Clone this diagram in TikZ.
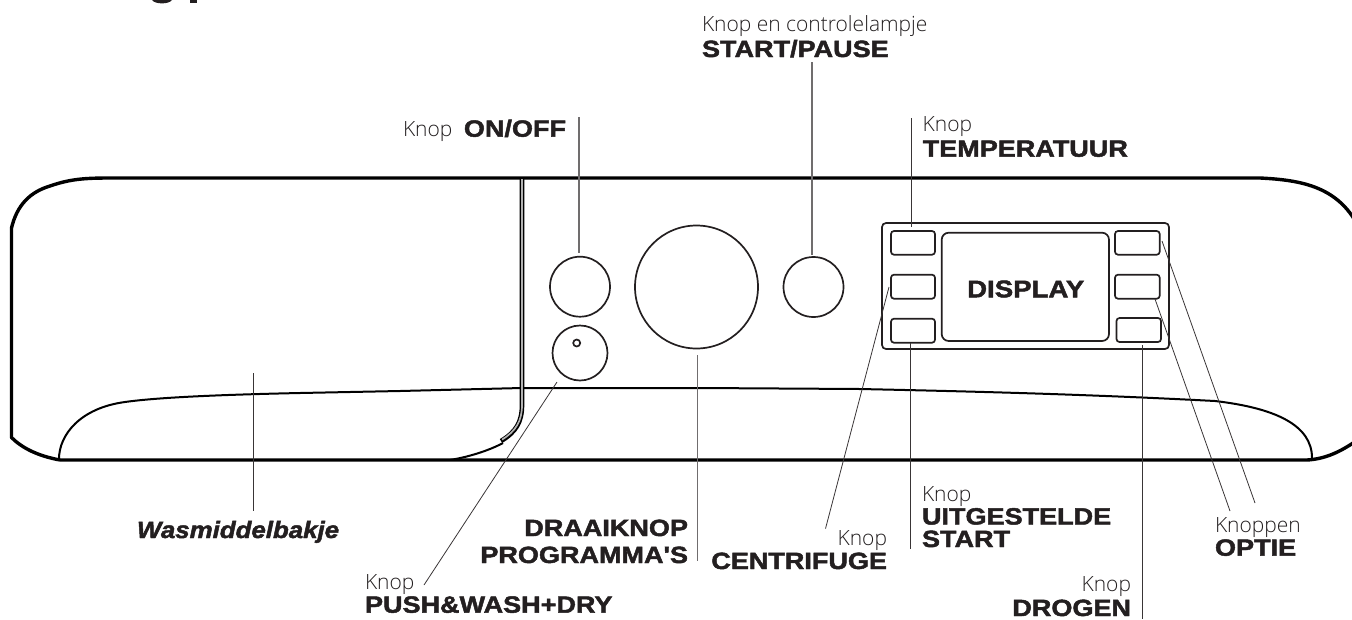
\documentclass[tikz,border=0pt]{standalone}
\usepackage{fontspec}
\setmainfont{Liberation Sans}
\newfontfamily\lightf{Open Sans Light}
\newfontfamily\heavyf[FakeStretch=1.15,FakeBold=2]{Liberation Sans Bold}
\newfontfamily\heavyi[FakeStretch=1.1,FakeBold=2]{Liberation Sans Bold Italic}
\definecolor{ink}{HTML}{231F20}
\tikzset{
 body/.style={line width=3.4pt,black},
 edge/.style={line width=2pt,black},
 part/.style={line width=1.7pt,draw=ink},
 lead/.style={line width=0.8pt,draw=ink!90},
 leadg/.style={line width=1.1pt,draw=ink!65},
 lt/.style={inner sep=0pt,outer sep=0pt,text=ink,font=\lightf\fontsize{21}{21}\selectfont},
 hv/.style={inner sep=0pt,outer sep=0pt,text=ink,font=\heavyf\fontsize{23.5}{23.5}\selectfont},
 hi/.style={inner sep=0pt,outer sep=0pt,text=ink,font=\heavyi\fontsize{23.5}{23.5}\selectfont},
}
\begin{document}
\begin{tikzpicture}[x=1pt,y=-1pt]
\useasboundingbox (0,0) rectangle (1352,619);
% cropped title remains
\fill[ink] (152,0) .. controls (155,4.5) and (169,4.5) .. (172,0) -- cycle;
\fill[ink] (190,0) rectangle (197,3.2);
% body
\begin{scope}
\clip (0,0) rectangle (1352,619);
\draw[body,line join=round] (60,460) .. controls (38,456) and (22,448) .. (11.5,437.5) -- (11.5,228)
  .. controls (17,205) and (30,192) .. (50,186) .. controls (70,179) and (85,178) .. (110,178) -- (1260,178)
  .. controls (1300,180) and (1335,186) .. (1356,222);
\draw[body] (60,460) -- (450,460) (450,460) -- (1307,460) .. controls (1325,459) and (1340,452) .. (1356,441);
\draw[edge] (59,459) .. controls (59,435) and (80,408) .. (125,402) .. controls (160,397) and (230,394.5) .. (300,393)
  -- (400,391) -- (522,388) -- (700,388) -- (860,389) .. controls (1000,392) and (1100,395) .. (1215,401)
  .. controls (1275,408) and (1312,425) .. (1312,458);
\end{scope}
% dispenser divider
\draw[line width=4.6pt,black] (522,178) -- (522,405) .. controls (522,422) and (516,432) .. (501,441);
\draw[line width=1.7pt,gray!60] (522,179) -- (522,405) .. controls (522,421) and (516,431) .. (502,439.6);
\draw[edge] (503,443) .. controls (488,451) and (468,457) .. (450,460);
% knobs
\node[circle,part,minimum size=60pt,inner sep=0pt] (onoff) at (580,286.7) {};
\node[circle,part,minimum size=55pt,inner sep=0pt] (push) at (580,353) {};
\node[circle,part,minimum size=7pt,inner sep=0pt] (lamp) at (576.7,343) {};
\node[circle,part,minimum size=123pt,inner sep=0pt] (dial) at (696.5,287) {};
\node[circle,part,minimum size=60pt,inner sep=0pt] (start) at (813.5,287) {};
% display
\draw[part,rounded corners=4pt] (882,223) rectangle (1169,349);
\draw[part,rounded corners=7pt] (941.7,232.7) rectangle (1109,341);
\node[inner sep=0pt,text=ink,font=\heavyf\fontsize{24}{24}\selectfont] (disp) at (1025.7,289) {DISPLAY};
\foreach \n/\xa/\ya/\xb/\yb in {bl1/891/231/935/254.7,bl2/891/274.7/935/298.7,bl3/891/318.7/935/342.7,
  br1/1115/231/1159.7/254.7,br2/1115/274.7/1159.7/298.7,br3/1116.5/318/1161/342}{
  \draw[part,rounded corners=3pt] (\xa,\ya) rectangle (\xb,\yb);
}
% labels
\node[lt,anchor=base west] (l1a) at (702,31) {Knop en controlelampje};
\node[hv,anchor=base west] (l1b) at (702,57) {START/PAUSE};
\node[lt,anchor=base west] (l2a) at (403,136.7) {Knop};
\node[hv,anchor=base east] (l2b) at (566,136.7) {ON/OFF};
\node[lt,anchor=base west] (l3a) at (922.7,131.7) {Knop};
\node[hv,anchor=base west] (l3b) at (922.7,156.7) {TEMPERATUUR};
\node[hi,anchor=base west] (l4) at (137,538) {Wasmiddelbakje};
\node[hv,anchor=base east] (l5a) at (688,536) {DRAAIKNOP};
\node[hv,anchor=base east] (l5b) at (688,563) {PROGRAMMA'S};
\node[lt,anchor=base east] (l6a) at (887,545) {Knop};
\node[hv,anchor=base east] (l6b) at (887,569) {CENTRIFUGE};
\node[lt,anchor=base west] (l7a) at (365,589) {Knop};
\node[hv,anchor=base west] (l7b) at (365,612.7) {PUSH\&WASH+DRY};
\node[lt,anchor=base west] (l8a) at (922,501) {Knop};
\node[hv,anchor=base west] (l8b) at (922,524.5) {UITGESTELDE};
\node[hv,anchor=base west] (l8c) at (922,547) {START};
\node[lt,anchor=base east] (l9a) at (1131,591) {Knop};
\node[hv,anchor=base east] (l9b) at (1131,616) {DROGEN};
\node[lt,anchor=base west] (l10a) at (1215,532) {Knoppen};
\node[hv,anchor=base west] (l10b) at (1215,555.7) {OPTIE};
% leader ends
\coordinate (c1a) at (812,62); \coordinate (c1b) at (812,255);
\coordinate (c2a) at (579,117); \coordinate (c2b) at (579,253);
\coordinate (c3a) at (911.7,118); \coordinate (c3b) at (911.7,227);
\coordinate (c4a) at (253.5,373); \coordinate (c4b) at (253.5,510.7);
\coordinate (c5a) at (697.7,355); \coordinate (c5b) at (697.7,561);
\coordinate (c6a) at (889,287); \coordinate (c6b) at (825.5,528.6);
\coordinate (c7a) at (557,382); \coordinate (c7b) at (424,585);
\coordinate (c8a) at (910.7,343); \coordinate (c8b) at (910.7,549);
\coordinate (c9a) at (1142.5,345); \coordinate (c9b) at (1142.5,619);
\coordinate (c10a) at (1162,241); \coordinate (c10b) at (1255,503);
\coordinate (c11a) at (1155,299); \coordinate (c11b) at (1230,511);
\draw[leadg] (c1a) -- (c1b);
\draw[leadg] (c2a) -- (c2b);
\draw[lead] (c3a) -- (c3b);
\draw[lead] (c4a) -- (c4b);
\draw[leadg] (c5a) -- (c5b);
\draw[lead] (c6a) -- (c6b);
\draw[lead] (c7a) -- (c7b);
\draw[lead] (c8a) -- (c8b);
\draw[lead] (c9a) -- (c9b);
\draw[lead] (c10a) -- (c10b);
\draw[lead] (c11a) -- (c11b);
\end{tikzpicture}
\end{document}
